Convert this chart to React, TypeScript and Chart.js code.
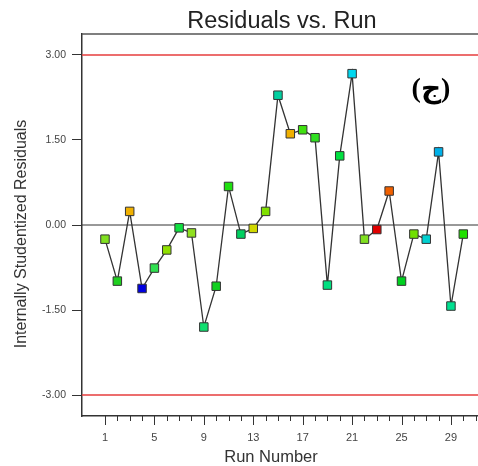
import React, { useEffect, useRef } from "react";
import { Chart, registerables } from "chart.js";

Chart.register(...registerables);

const runs = [1, 2, 3, 4, 5, 6, 7, 8, 9, 10, 11, 12, 13, 14, 15, 16, 17, 18, 19, 20, 21, 22, 23, 24, 25, 26, 27, 28, 29, 30];
const residuals = [-0.25, -0.99, 0.24, -1.12, -0.76, -0.44, -0.05, -0.14, -1.8, -1.08, 0.68, -0.16, -0.06, 0.24, 2.29, 1.61, 1.68, 1.54, -1.06, 1.22, 2.67, -0.25, -0.08, 0.6, -0.99, -0.16, -0.25, 1.29, -1.43, -0.16];
const pointColors = [
  "#80e020", "#20d020", "#f0b000", "#0000e0", "#30e050", "#90e000", "#10e040", "#90e020", "#10e070", "#10d020",
  "#20e010", "#00d060", "#d0d800", "#80e000", "#00d0a0", "#f0b000", "#40e010", "#30e020", "#00e080", "#00e040",
  "#00d8f0", "#80e020", "#e00000", "#f06000", "#00d020", "#70e000", "#00d0d0", "#00b0e8", "#00e090", "#20e000",
];
const xTickValues = [1, 2, 3, 4, 5, 6, 7, 8, 9, 10, 11, 12, 13, 14, 15, 16, 17, 18, 19, 20, 21, 22, 23, 24, 25, 26, 27, 28, 29, 30, 31];
const xTickLabels = [1, 5, 9, 13, 17, 21, 25, 29];
const yTickValues = [-3, -1.5, 0, 1.5, 3];
const limitValue = 3;
const xMin = -0.86;
const xMax = 31.19;
const yMin = -3.37;
const yMax = 3.37;

const titleText = "Residuals vs. Run";
const xTitle = "Run Number";
const yTitle = "Internally Studentized Residuals";
const panelParts = ["(", "ج", ")"];

const FONT = '"Liberation Sans", Arial, sans-serif';

const decor = {
  id: "decor",
  afterDraw(chart: any) {
    const { ctx, chartArea, scales } = chart;
    const xs = scales.x;
    ctx.save();
    ctx.direction = "ltr";
    // top border
    ctx.strokeStyle = "#555";
    ctx.lineWidth = 1.5;
    ctx.beginPath();
    ctx.moveTo(chartArea.left, chartArea.top);
    ctx.lineTo(chartArea.right, chartArea.top);
    ctx.stroke();
    // x ticks
    ctx.strokeStyle = "#333";
    ctx.lineWidth = 1;
    xs.ticks.forEach((t: any) => {
      const px = Math.round(xs.getPixelForValue(t.value)) + 0.5;
      const major = xTickLabels.includes(t.value);
      ctx.beginPath();
      ctx.moveTo(px, chartArea.bottom);
      ctx.lineTo(px, chartArea.bottom + (major ? 9 : 5));
      ctx.stroke();
    });
    // title
    ctx.fillStyle = "#222";
    ctx.textAlign = "center";
    ctx.textBaseline = "middle";
    ctx.font = `23.5px ${FONT}`;
    ctx.fillText(titleText, 282, 22);
    // x title
    ctx.fillStyle = "#333";
    ctx.font = `16.5px ${FONT}`;
    ctx.fillText(xTitle, 271, 457);
    // y title
    ctx.save();
    ctx.translate(22, 234);
    ctx.rotate(-Math.PI / 2);
    ctx.font = `16px ${FONT}`;
    ctx.fillText(yTitle, 0, 0);
    ctx.restore();
    // panel label, drawn part by part left to right
    ctx.fillStyle = "#000";
    ctx.font = 'bold 28px "Liberation Serif", "DejaVu Serif", "DejaVu Sans", serif';
    ctx.textAlign = "left";
    const widths = panelParts.map((p) => ctx.measureText(p).width);
    const total = widths.reduce((a, b) => a + b, 0);
    let cx = 431 - total / 2;
    panelParts.forEach((p, i) => {
      ctx.fillText(p, cx, 90);
      cx += widths[i];
    });
    ctx.restore();
  },
};

export default function App() {
  const ref = useRef<HTMLCanvasElement | null>(null);
  useEffect(() => {
    if (!ref.current) return;
    const points = runs.map((r, i) => ({ x: r, y: residuals[i] }));
    const chart = new Chart(ref.current, {
      type: "scatter",
      data: {
        datasets: [
          {
            data: points,
            showLine: true,
            borderColor: "#333",
            borderWidth: 1.3,
            pointStyle: "rect",
            pointRadius: 6,
            pointBackgroundColor: pointColors,
            pointBorderColor: "#333",
            pointBorderWidth: 1,
          },
          {
            data: [{ x: xMin, y: 0 }, { x: xMax, y: 0 }],
            showLine: true,
            pointRadius: 0,
            borderColor: "#333",
            borderWidth: 1,
          },
          {
            data: [{ x: xMin, y: limitValue }, { x: xMax, y: limitValue }],
            showLine: true,
            pointRadius: 0,
            borderColor: "#e63c3c",
            borderWidth: 1.5,
          },
          {
            data: [{ x: xMin, y: -limitValue }, { x: xMax, y: -limitValue }],
            showLine: true,
            pointRadius: 0,
            borderColor: "#e63c3c",
            borderWidth: 1.5,
          },
        ],
      },
      options: {
        animation: false,
        responsive: false,
        devicePixelRatio: 1,
        layout: { autoPadding: false, padding: { top: 34, left: 0, right: 0, bottom: 0 } },
        plugins: { legend: { display: false }, tooltip: { enabled: false }, title: { display: false } },
        scales: {
          x: {
            type: "linear",
            min: xMin,
            max: xMax,
            afterFit: (s: any) => {
              s.height = 50;
              s.paddingLeft = 0;
              s.paddingRight = 0;
            },
            afterBuildTicks: (s: any) => { s.ticks = xTickValues.map((v) => ({ value: v })); },
            ticks: {
              autoSkip: false,
              maxRotation: 0,
              padding: 15,
              color: "#444",
              font: { family: FONT, size: 11 },
              callback: (v: any) => (xTickLabels.includes(Number(v)) ? String(v) : ""),
            },
            grid: { display: false, drawTicks: false },
            border: { display: true, color: "#333", width: 1.5 },
          },
          y: {
            type: "linear",
            min: yMin,
            max: yMax,
            afterFit: (s: any) => {
              s.width = 82;
              s.paddingTop = 0;
              s.paddingBottom = 0;
            },
            afterBuildTicks: (s: any) => { s.ticks = yTickValues.map((v) => ({ value: v })); },
            ticks: {
              padding: 6,
              color: "#444",
              font: { family: FONT, size: 10.5 },
              callback: (v: any) => Number(v).toFixed(2),
            },
            grid: { display: true, drawOnChartArea: false, drawTicks: true, tickLength: 10, color: "#333" },
            border: { display: true, color: "#333", width: 1.5 },
          },
        },
      },
      plugins: [decor],
    });
    return () => chart.destroy();
  }, []);
  return (
    <div style={{ position: "absolute", left: 0, top: 0, width: 478, height: 466, background: "#fff" }}>
      <canvas ref={ref} width={478} height={466} />
    </div>
  );
}
